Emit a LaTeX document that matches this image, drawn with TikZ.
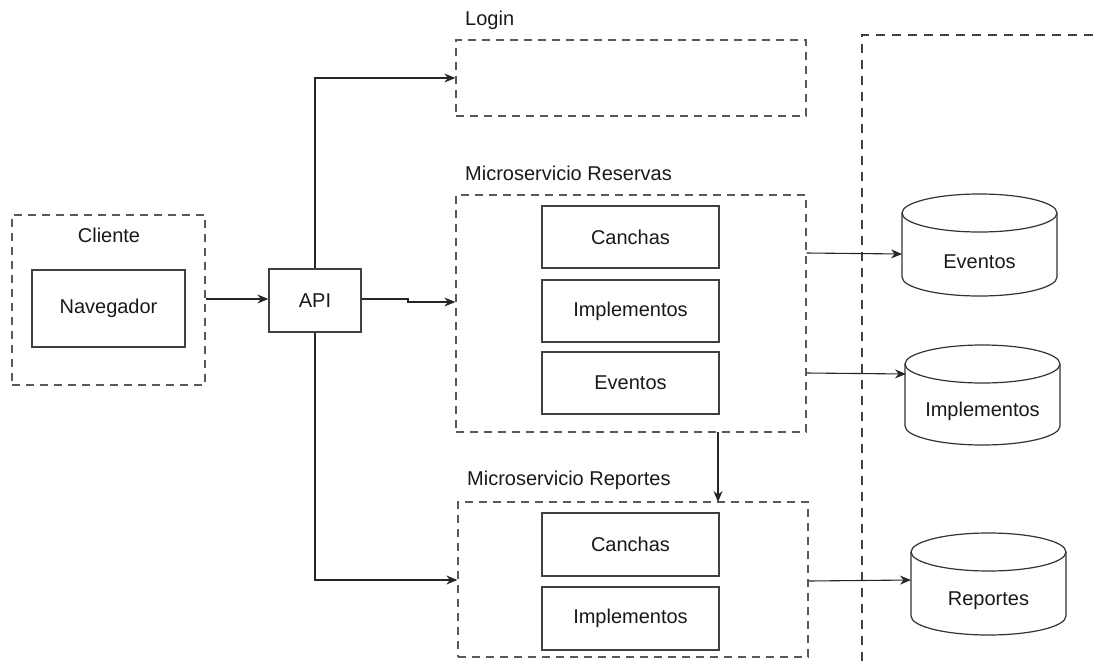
\documentclass[tikz,border=0pt]{standalone}
\usepackage{fontspec}
\setmainfont{Liberation Sans}
\usetikzlibrary{arrows.meta}
\begin{document}
\begin{tikzpicture}[x=1pt,y=-1pt,
  every node/.style={font=\fontsize{20}{22}\selectfont, text=black!90},
  group/.style={draw=black!65, line width=1.3pt, dash pattern=on 8pt off 6pt, inner sep=0pt},
  box/.style={draw=black!75, line width=1.3pt, fill=white, inner sep=0pt},
  lbl/.style={anchor=west, inner sep=0pt},
  link/.style={draw=black!85, line width=1.1pt, -{Stealth[length=11pt,width=9pt]}},
  dbbody/.style={draw=black!80, line width=1.2pt, fill=white}
]
\useasboundingbox (0,0) rectangle (1094,661);

% client group
\node[group, minimum width=193pt, minimum height=170pt] (cliente) at (108.5,300) {};
\node[inner sep=0pt] (clientelbl) at (109,235) {Cliente};
\node[box, minimum width=153pt, minimum height=77pt] (nav) at (108.5,308.5) {Navegador};

% gateway
\node[box, minimum width=92pt, minimum height=63pt] (api) at (315,300.5) {API};

% login group
\node[group, minimum width=350pt, minimum height=76pt] (login) at (631,78) {};
\node[lbl] (loginlbl) at (465,20) {Login};

% reservations group
\node[group, minimum width=350pt, minimum height=237pt] (reservas) at (631,313.5) {};
\node[lbl] (reservaslbl) at (465,173) {Microservicio Reservas};
\node[box, minimum width=177pt, minimum height=62pt] (rcanchas) at (630.5,237) {Canchas};
\node[box, minimum width=177pt, minimum height=62pt] (rimpl) at (630.5,311) {Implementos};
\node[box, minimum width=177pt, minimum height=62pt] (reventos) at (630.5,383) {Eventos};

% reports group
\node[group, minimum width=350pt, minimum height=155pt] (reportes) at (633,579.5) {};
\node[lbl] (reporteslbl) at (467,480) {Microservicio Reportes};
\node[box, minimum width=177pt, minimum height=63pt] (pcanchas) at (630.5,544.5) {Canchas};
\node[box, minimum width=177pt, minimum height=63pt] (pimpl) at (630.5,618.5) {Implementos};

% storage zone boundary
\coordinate (zoneA) at (862,661);
\coordinate (zoneB) at (862,35);
\coordinate (zoneC) at (1094,35);
\draw[draw=black!75, line width=1.2pt, dash pattern=on 9pt off 7pt] (zoneA) -- (zoneB) -- (zoneC);

% databases: a named node for the text, a cylinder drawn around it
\newcommand{\dbcyl}[5]{% name, cx, top y, bottom y, label
  \fill[white] (#2-77.5,#3+19) rectangle (#2+77.5,#4-19);
  \draw[dbbody] (#2-77.5,#3+19) -- (#2-77.5,#4-19)
     arc[start angle=180,end angle=360,x radius=77.5pt,y radius=19pt]
     -- (#2+77.5,#3+19);
  \draw[dbbody] (#2,#3+19) ellipse[x radius=77.5pt,y radius=19pt];
  \node[inner sep=0pt] (#1) at (#2,#4-34) {#5};
}
\dbcyl{dbeventos}{979.5}{194}{296}{Eventos}
\dbcyl{dbimpl}{982.5}{345}{445}{Implementos}
\dbcyl{dbreportes}{988.5}{533}{635}{Reportes}

% named anchors for the connectors
\coordinate (apiTop) at (api.north);
\coordinate (apiBot) at (api.south);
\coordinate (upTurn) at (315,78);
\coordinate (downTurn) at (315,580);
\coordinate (stepA) at (408,299);
\coordinate (stepB) at (408,302);
\coordinate (resDown) at (718,432);
\coordinate (repTop) at (718,502);

% connectors
\draw[link] (cliente.east |- 0,299) -- (api.west |- 0,299);
\draw[link] (apiTop) -- (upTurn) -- (login.west |- upTurn);
\draw[link] (api.east |- stepA) -- (stepA) -- (stepB) -- (reservas.west |- stepB);
\draw[link] (apiBot) -- (downTurn) -- (reportes.west |- downTurn);
\draw[link] (resDown) -- (repTop);
\draw[link] (reservas.east |- 0,253) -- (902,254);
\draw[link] (reservas.east |- 0,373) -- (906,374);
\draw[link] (reportes.east |- 0,581) -- (911,580);
\end{tikzpicture}
\end{document}
